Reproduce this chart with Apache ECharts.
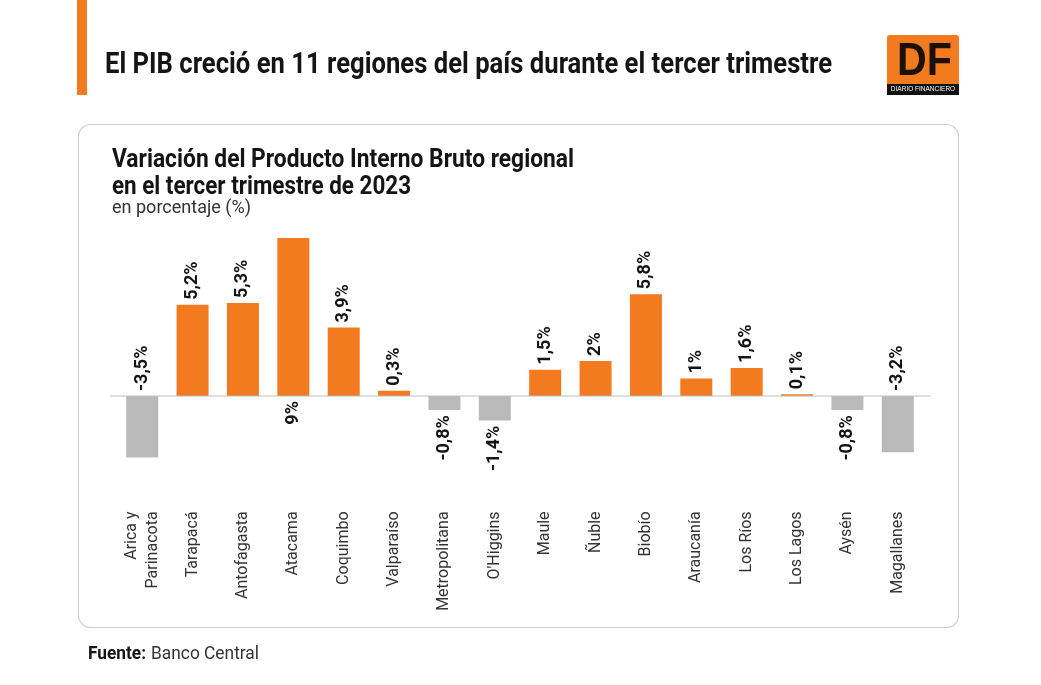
<!DOCTYPE html>
<html>
<head>
<meta charset="utf-8">
<title>PIB regional</title>
<script src="https://cdn.jsdelivr.net/npm/echarts@6/dist/echarts.min.js"></script>
<style>
  html, body { margin: 0; padding: 0; background: #fff; }
  #chart { width: 1041px; height: 685px; }
</style>
</head>
<body>
<div id="chart"></div>
<script>
const regions = ['Arica y\nParinacota', 'Tarapacá', 'Antofagasta', 'Atacama', 'Coquimbo', 'Valparaíso',
  'Metropolitana', "O'Higgins", 'Maule', 'Ñuble', 'Biobío', 'Araucanía', 'Los Ríos', 'Los Lagos', 'Aysén', 'Magallanes'];
const values = [-3.5, 5.2, 5.3, 9, 3.9, 0.3, -0.8, -1.4, 1.5, 2, 5.8, 1, 1.6, 0.1, -0.8, -3.2];
// these three carry the label on the opposite side of the axis
const flippedRegions = ['Arica y\nParinacota', 'Atacama', 'Magallanes'];

const ORANGE = '#f47a20';
const GRAY = '#b9b9b9';
const INK = '#141414';
const FONT = 'Roboto, "Liberation Sans", sans-serif';

const chart = echarts.init(document.getElementById('chart'), null, { renderer: 'canvas' });

// no condensed face is installed, so squeeze text to the width it has in the reference
const measureCtx = document.createElement('canvas').getContext('2d');
function fitText(text, font, x, y, width, fill) {
  measureCtx.font = font;
  return {
    type: 'text', x: x, y: y,
    scaleX: width / measureCtx.measureText(text).width,
    style: { text: text, font: font, fill: fill, verticalAlign: 'middle' }
  };
}

function barLabel(region, value) {
  const flipped = flippedRegions.includes(region);
  const above = flipped ? value < 0 : value >= 0;
  return {
    show: true,
    position: above ? 'top' : 'bottom',
    distance: 5,
    rotate: 90,
    align: above ? 'left' : 'right',
    verticalAlign: 'middle',
    formatter: String(value).replace('.', ',') + '%',
    fontFamily: FONT,
    fontWeight: 'bold',
    fontSize: 18,
    color: INK
  };
}

const option = {
  animation: false,
  backgroundColor: '#fff',
  graphic: [
    { type: 'rect', shape: { x: 77, y: 0, width: 10, height: 95 }, style: { fill: ORANGE } },
    { type: 'rect', shape: { x: 78.5, y: 124.5, width: 880, height: 503, r: 12 },
      style: { fill: '#fff', stroke: '#cfcfcf', lineWidth: 1.2 }, z: -1 },
    fitText('El PIB creció en 11 regiones del país durante el tercer trimestre', 'bold 29px ' + FONT, 105, 66, 727, INK),
    fitText('Variación del Producto Interno Bruto regional', 'bold 25px ' + FONT, 112, 161, 462, INK),
    fitText('en el tercer trimestre de 2023', 'bold 25px ' + FONT, 112, 188, 299, INK),
    fitText('en porcentaje (%)', '18px ' + FONT, 112, 208, 139, '#333'),
    fitText('Fuente:', 'bold 19px ' + FONT, 88, 654, 58, INK),
    fitText('Banco Central', '19px ' + FONT, 151, 654, 108, '#333'),
    // logo
    { type: 'rect', shape: { x: 887, y: 35, width: 72, height: 60, r: [3, 3, 0, 0] }, style: { fill: ORANGE } },
    { type: 'rect', shape: { x: 887, y: 84, width: 72, height: 11 }, style: { fill: '#111' } },
    fitText('DF', 'bold 47px "Liberation Sans", sans-serif', 897, 62, 55, '#1a1208'),
    { type: 'text', x: 923, y: 89.5, style: { text: 'DIARIO FINANCIERO', font: '6.5px "Liberation Sans", sans-serif',
      fill: '#fff', align: 'center', verticalAlign: 'middle' } }
  ],
  grid: { left: 117, top: 238, width: 806, height: 263.4 },
  xAxis: {
    type: 'category',
    data: regions,
    position: 'bottom',
    axisLine: { show: false },
    axisTick: { show: false },
    axisLabel: {
      interval: 0,
      rotate: 90,
      margin: 10,
      fontFamily: FONT,
      fontSize: 16,
      lineHeight: 21,
      color: '#333'
    }
  },
  yAxis: {
    type: 'value',
    min: -6,
    max: 9,
    interval: 3,
    show: false
  },
  series: [{
    type: 'bar',
    barWidth: 32,
    data: values.map((v, i) => ({
      value: v,
      itemStyle: { color: v < 0 ? GRAY : ORANGE },
      label: barLabel(regions[i], v)
    }))
  }]
};

chart.setOption(option);

// zero line runs a little past the plot on both sides
const zeroY = chart.convertToPixel({ yAxisIndex: 0 }, 0);
chart.setOption({
  graphic: option.graphic.concat([{
    type: 'line',
    shape: { x1: 110, y1: zeroY, x2: 931, y2: zeroY },
    style: { stroke: '#bdbdbd', lineWidth: 1 },
    z: 10
  }])
});
</script>
</body>
</html>
